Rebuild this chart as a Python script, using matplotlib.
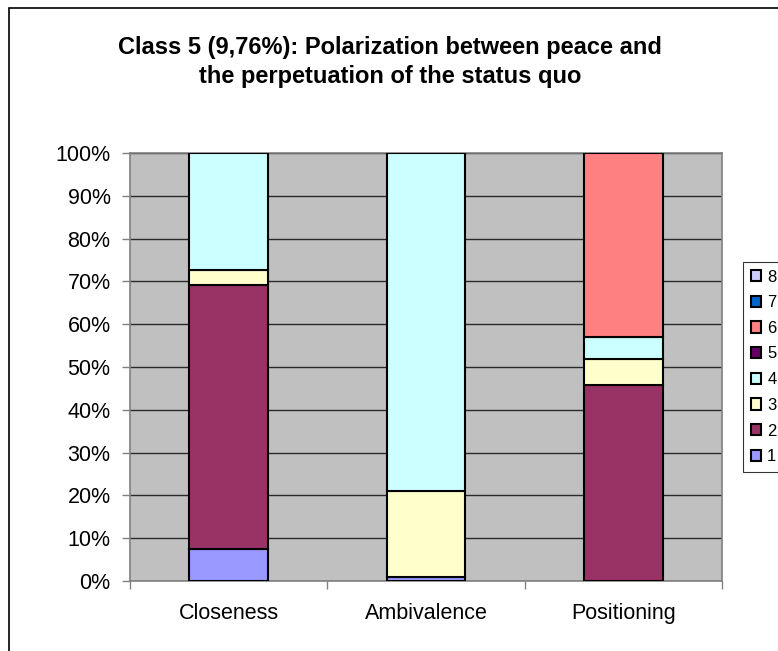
import matplotlib
matplotlib.use("Agg")
import matplotlib.pyplot as plt
from matplotlib.patches import Patch, Rectangle
import numpy as np

plt.rcParams['font.family'] = ['Liberation Sans', 'DejaVu Sans']

categories = ["Closeness", "Ambivalence", "Positioning"]
series_names = ["1", "2", "3", "4", "5", "6", "7", "8"]
s1 = [7.5, 0.9, 0.0]
s2 = [61.7, 0.0, 45.8]
s3 = [3.4, 20.1, 6.1]
s4 = [27.4, 79.0, 5.2]
s5 = [0.0, 0.0, 0.0]
s6 = [0.0, 0.0, 42.9]
s7 = [0.0, 0.0, 0.0]
s8 = [0.0, 0.0, 0.0]
series_values = [s1, s2, s3, s4, s5, s6, s7, s8]
colors = ["#9999FF", "#993366", "#FFFFCC", "#CCFFFF", "#660066", "#FF8080", "#0066CC", "#CCCCFF"]
yticks = [0, 10, 20, 30, 40, 50, 60, 70, 80, 90, 100]
ytick_labels = [f"{v}%" for v in yticks]
title = "Class 5 (9,76%): Polarization between peace and\nthe perpetuation of the status quo"

W, H = 778, 651
fig = plt.figure(figsize=(W / 100, H / 100), dpi=100)
fig.patch.set_facecolor("white")

# outer chart border
fig.patches.append(Rectangle((9 / W, -0.1), 1.2, 1 - 8 / H + 0.1, transform=fig.transFigure,
                             fill=False, edgecolor="black", linewidth=1.2))

ax = fig.add_axes([130 / W, (H - 581) / H, 592 / W, 428 / H])
ax.set_facecolor("#C0C0C0")
x = np.arange(len(categories))
bottom = np.zeros(len(categories))
for vals, c in zip(series_values, colors):
    v = np.array(vals)
    mask = v > 0
    ax.bar(x[mask], v[mask], bottom=bottom[mask], width=0.4, color=c,
           edgecolor="black", linewidth=1.5, zorder=3)
    bottom += v

ax.set_xlim(-0.5, 2.5)
ax.set_ylim(0, 100)
ax.set_yticks(yticks)
ax.set_yticklabels(ytick_labels, fontsize=15.5)
ax.yaxis.grid(True, color="#2a2a2a", linewidth=1, zorder=0)
ax.set_axisbelow(True)
ax.set_xticks([-0.5, 0.5, 1.5, 2.5])
ax.set_xticklabels([])
ax.set_xticks(x, minor=True)
ax.set_xticklabels(categories, minor=True, fontsize=15.5)
ax.tick_params(axis="x", which="minor", length=0, pad=16)
ax.tick_params(axis="x", which="major", length=6, color="#808080", width=1)
ax.tick_params(axis="y", length=6, color="#808080", width=1, pad=8)
for side in ["left", "bottom", "top", "right"]:
    ax.spines[side].set_color("#808080")
    ax.spines[side].set_linewidth(1.2)

fig.text(390 / W, 1 - 62 / H, title, ha="center", va="center", fontsize=17,
         fontweight="bold", linespacing=1.35)

handles = [Patch(facecolor=c, edgecolor="black", linewidth=1.5, label=n)
           for n, c in zip(series_names, colors)][::-1]
leg = fig.legend(handles=handles, loc="upper left", bbox_to_anchor=(743 / W, 1 - 262 / H),
                 fontsize=12, frameon=True, fancybox=False, edgecolor="black",
                 handlelength=0.65, handleheight=0.65, handletextpad=0.35,
                 labelspacing=0.64, borderpad=0.45, borderaxespad=0)
leg.get_frame().set_linewidth(0.8)

fig.savefig("out.png", dpi=100)
